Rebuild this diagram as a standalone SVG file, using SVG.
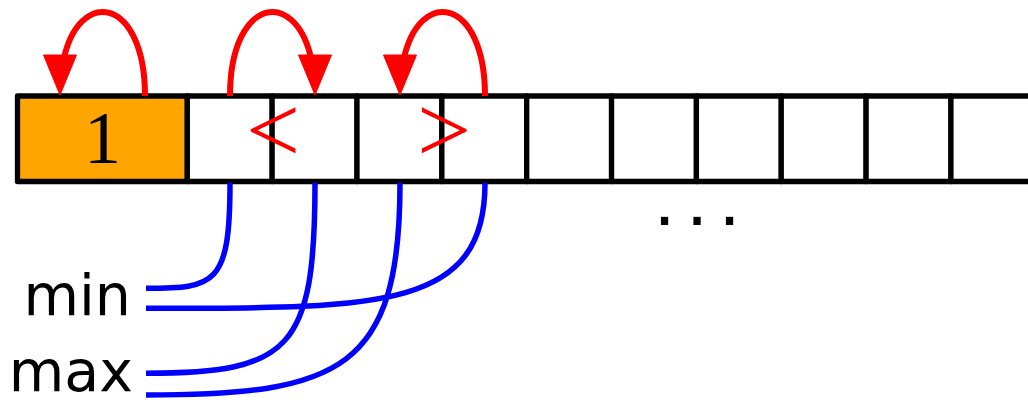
<svg xmlns="http://www.w3.org/2000/svg" width="1028" height="404" viewBox="0 0 1028 404">
  <style>
    .cell { fill: #ffffff; stroke: #000000; stroke-width: 5.3; stroke-linejoin: round; }
    .orange { fill: #ffa500; }
    .red { fill: none; stroke: #ff0000; stroke-width: 6; }
    .blue { fill: none; stroke: #0000ff; stroke-width: 5.5; }
    .lbl { font-family: "DejaVu Sans", sans-serif; font-size: 57px; fill: #000000; text-anchor: end; }
    .cmp { font-family: "Liberation Serif", serif; font-size: 96px; fill: #ff0000; text-anchor: middle; }
    .num { font-family: "Liberation Serif", serif; font-size: 74px; fill: #000000; text-anchor: middle; }
  </style>
  <defs>
    <path id="arc" d="M145,96 C145,-2.56 79.18,-14.39 63.38,60.52"/>
    <polygon id="head" points="43.5,55 76.5,55 60,95" fill="#ff0000" stroke="#ff0000" stroke-width="1" stroke-linejoin="round"/>
  </defs>
  <rect width="1028" height="404" fill="#ffffff"/>

  <g id="cells">
    <g id="cell-0"><rect class="cell orange" x="17.5" y="96" width="169.8" height="85.5"/><text class="num" x="102.5" y="163.3">1</text></g>
    <g id="cell-2"><rect class="cell" x="187.3" y="96" width="84.85" height="85.5"/></g>
    <g id="cell-3"><rect class="cell" x="272.15" y="96" width="84.85" height="85.5"/></g>
    <g id="cell-4"><rect class="cell" x="357" y="96" width="84.85" height="85.5"/></g>
    <g id="cell-5"><rect class="cell" x="441.85" y="96" width="84.85" height="85.5"/></g>
    <g id="cell-6"><rect class="cell" x="526.7" y="96" width="84.85" height="85.5"/></g>
    <g id="cell-7"><rect class="cell" x="611.55" y="96" width="84.85" height="85.5"/></g>
    <g id="cell-8"><rect class="cell" x="696.4" y="96" width="84.85" height="85.5"/></g>
    <g id="cell-9"><rect class="cell" x="781.25" y="96" width="84.85" height="85.5"/></g>
    <g id="cell-10"><rect class="cell" x="866.1" y="96" width="84.85" height="85.5"/></g>
    <g id="cell-11"><rect class="cell" x="950.95" y="96" width="84.85" height="85.5"/></g>
  </g>

  <g id="less-than"><text class="cmp" x="273" y="162">&lt;</text></g>
  <g id="greater-than"><text class="cmp" x="444" y="162">&gt;</text></g>

  <g id="ellipsis"><text x="654" y="224.9" font-family="Liberation Sans, sans-serif" font-size="76" letter-spacing="11.4" fill="#000000">...</text></g>

  <g id="label-min"><text class="lbl" x="131" y="315">min</text></g>
  <g id="label-max"><text class="lbl" x="133" y="390.5" font-size="56">max</text></g>

  <g id="connectors">
    <g id="arrow-1"><use href="#arc" class="red"/><use href="#head"/></g>
    <g id="arrow-2" transform="matrix(-1 0 0 1 375 0)"><use href="#arc" class="red"/><use href="#head"/></g>
    <g id="arrow-3" transform="translate(340 0)"><use href="#arc" class="red"/><use href="#head"/></g>
    <path class="blue" d="M230,183 C230,285 215,288.3 146,288.3"/>
    <path class="blue" d="M485,183 C485,310 380,308.3 146,308.3"/>
    <path class="blue" d="M315,183 C315,350 290,373.3 146,373.3"/>
    <path class="blue" d="M400,183 C400,370 340,395 146,395"/>
  </g>
</svg>
